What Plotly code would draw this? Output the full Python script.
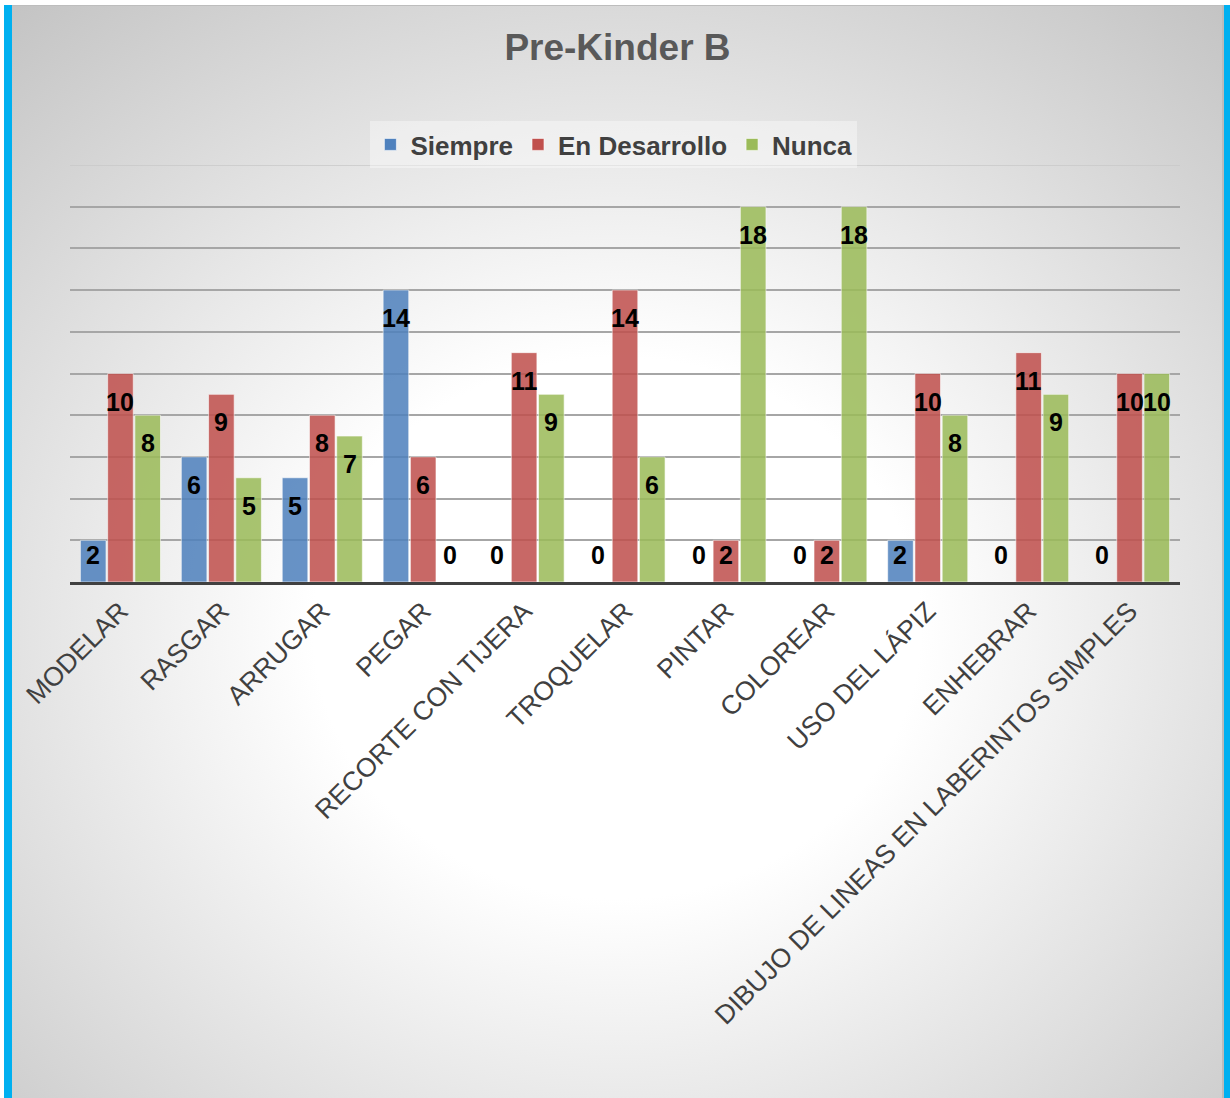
import base64
import plotly.graph_objects as go

# Categories and counts per level of achievement
categories = [
    "MODELAR", "RASGAR", "ARRUGAR", "PEGAR", "RECORTE CON TIJERA",
    "TROQUELAR", "PINTAR", "COLOREAR", "USO DEL LÁPIZ", "ENHEBRAR",
    "DIBUJO DE LINEAS EN LABERINTOS SIMPLES",
]
siempre = [2, 6, 5, 14, 0, 0, 0, 0, 2, 0, 0]
en_desarrollo = [10, 9, 8, 6, 11, 14, 2, 2, 10, 11, 10]
nunca = [8, 5, 7, 0, 9, 6, 18, 18, 8, 9, 10]

series_names = ["Siempre", "En Desarrollo", "Nunca"]
series_values = [siempre, en_desarrollo, nunca]
series_colors = ["#4F81BD", "#C0504D", "#9BBB59"]

W, H = 1230, 1098
M_L, M_R, M_T, M_B = 70, 50, 165, 516
Y_MAX = 20
BARGAP = 0.19
FONT = "Liberation Sans, Arial, sans-serif"

plot_w = W - M_L - M_R
plot_h = H - M_T - M_B
px_per_unit = plot_h / Y_MAX

# Page background: radial grey gradient framed by cyan side borders
bg_svg = f"""<svg xmlns='http://www.w3.org/2000/svg' width='{W}' height='{H}' viewBox='0 0 {W} {H}'>
<defs>
<radialGradient id='g' cx='0.5' cy='0.57' r='0.75' gradientUnits='objectBoundingBox'>
<stop offset='0' stop-color='#FFFFFF'/>
<stop offset='0.33' stop-color='#FFFFFF'/>
<stop offset='1' stop-color='#C4C4C4'/>
</radialGradient>
</defs>
<rect x='0' y='0' width='{W}' height='{H}' fill='#FFFFFF'/>
<rect x='4' y='5' width='{W - 4}' height='{H - 5}' fill='url(#g)'/>
<rect x='4' y='5' width='{W - 4}' height='1' fill='#BDBDBD'/>
<rect x='4' y='5' width='8' height='{H - 5}' fill='#00B0F0'/>
<rect x='{W - 8}' y='5' width='2' height='{H - 5}' fill='#BBBBBB'/>
<rect x='{W - 6}' y='5' width='6' height='{H - 5}' fill='#00B0F0'/>
</svg>"""
bg_src = "data:image/svg+xml;base64," + base64.b64encode(bg_svg.encode("utf-8")).decode("ascii")

fig = go.Figure()

for name, vals, col in zip(series_names, series_values, series_colors):
    fig.add_trace(go.Bar(
        name=name,
        x=categories,
        y=vals,
        marker=dict(color=col, opacity=0.86,
                    line=dict(color="rgba(255,255,255,0.6)", width=1)),
        hoverinfo="x+y+name",
    ))

# Value labels placed just inside the top of each bar
cat_w = plot_w / len(categories)
slot_w = cat_w * (1 - BARGAP) / len(series_names)
for s, vals in enumerate(series_values):
    shift = (s - 1) * slot_w
    for cat, v in zip(categories, vals):
        y_lab = max(v - 28 / px_per_unit, 27 / px_per_unit)
        fig.add_annotation(
            x=cat, y=y_lab, xref="x", yref="y",
            text=str(v), showarrow=False, xshift=shift,
            xanchor="center", yanchor="middle",
            font=dict(family=FONT, size=25, color="#000000", weight="bold"),
        )

# Top gridline at the end of the value range
fig.add_shape(
    type="line", xref="paper", yref="y", x0=0, x1=1, y0=Y_MAX, y1=Y_MAX,
    line=dict(color="#C8C8C8", width=1.5), layer="below",
)

fig.update_layout(
    width=W, height=H,
    margin=dict(l=M_L, r=M_R, t=M_T, b=M_B, pad=0),
    paper_bgcolor="rgba(0,0,0,0)",
    plot_bgcolor="rgba(0,0,0,0)",
    barmode="group",
    bargap=BARGAP,
    bargroupgap=0.06,
    title=dict(
        text="<b>Pre-Kinder B</b>",
        x=0.502, xanchor="center", y=1 - 47 / H, yanchor="middle",
        font=dict(family=FONT, size=37, color="#595959"),
    ),
    legend=dict(
        orientation="h", x=0.49, xanchor="center",
        y=1 - 3 / plot_h, yanchor="bottom",
        bgcolor="rgba(250,250,250,0.45)", borderwidth=0,
        font=dict(family=FONT, size=26, color="#404040", weight="bold"),
        itemwidth=30, tracegroupgap=0,
    ),
    xaxis=dict(
        tickangle=-45,
        tickfont=dict(family=FONT, size=26.5, color="#404040"),
        showline=True, linecolor="#404040", linewidth=3,
        ticks="", showgrid=False,
    ),
    yaxis=dict(
        range=[0, Y_MAX], dtick=2,
        showticklabels=False, showgrid=True,
        gridcolor="#A6A6A6", gridwidth=1.5,
        zeroline=False, showline=False, ticks="",
    ),
    images=[dict(
        source=bg_src, xref="paper", yref="paper",
        x=-M_L / plot_w, y=1 + M_T / plot_h,
        sizex=W / plot_w, sizey=H / plot_h,
        xanchor="left", yanchor="top", sizing="stretch", layer="below",
    )],
    showlegend=True,
)

fig.write_html("out.html")
